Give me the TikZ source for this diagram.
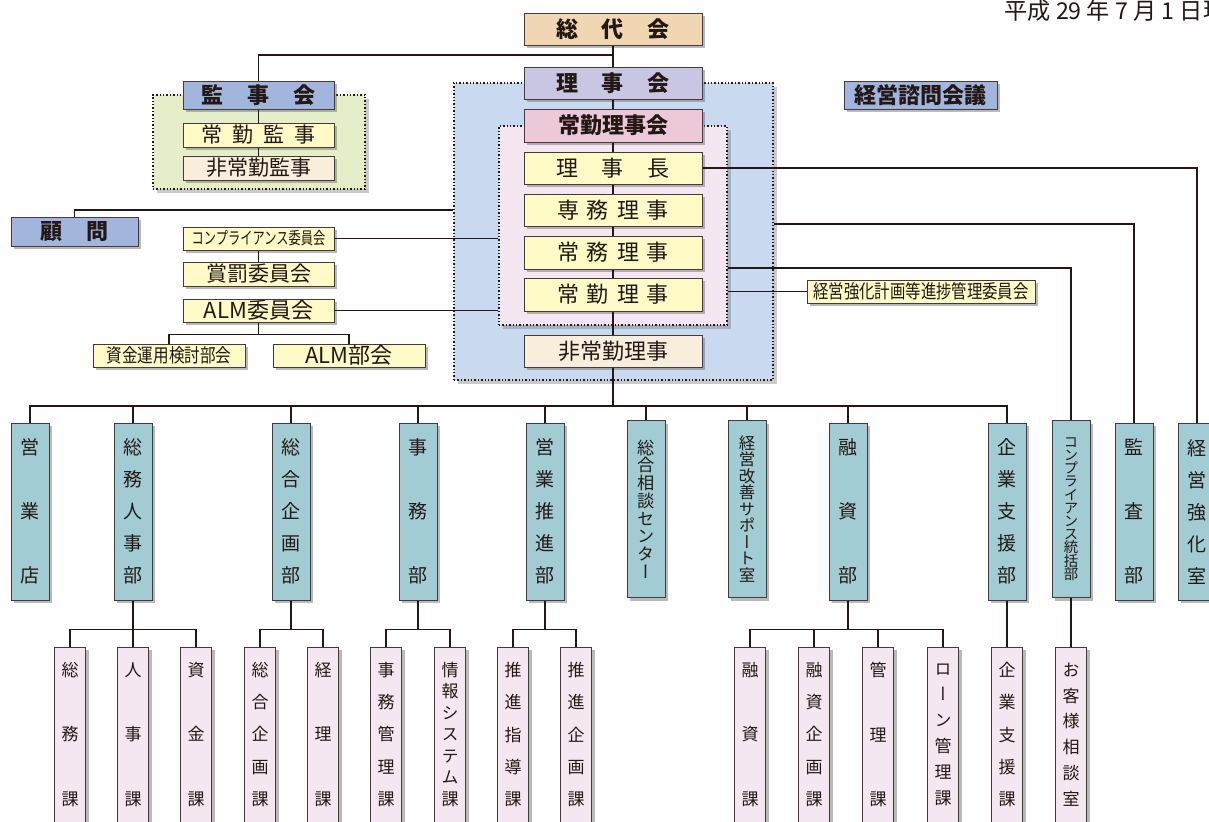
\documentclass[tikz,border=0pt]{standalone}
\usepackage{fontspec}
\usepackage{graphicx}
\setmainfont{Noto Sans CJK JP}
\newfontfamily\vfont[RawFeature=+vert]{Noto Sans CJK JP}
\usetikzlibrary{shadows}

\definecolor{ink}{HTML}{231815}
\definecolor{boxtan}{HTML}{F0D6B3}
\definecolor{boxlav}{HTML}{C8C6E2}
\definecolor{boxpink}{HTML}{EBC9D8}
\definecolor{boxyel}{HTML}{FFFAC6}
\definecolor{boxcream}{HTML}{F9EEDB}
\definecolor{boxblue}{HTML}{A2B5DD}
\definecolor{areagreen}{HTML}{E5EEC9}
\definecolor{areablue}{HTML}{C9D9EF}
\definecolor{areapink}{HTML}{F5E7F1}
\definecolor{deptteal}{HTML}{A1CCD3}

\newcommand{\bsp}{\hspace{11.8pt}}
\newcommand{\ssp}{\hspace{4pt}}
\newcommand{\narrow}[2]{\scalebox{#1}[1]{#2}}
\newcommand{\vtype}[2]{\vfont\fontsize{#1}{#2}\selectfont}
\lineskiplimit=-9pt

\tikzset{
  wh/.style 2 args={minimum width=#1*0.5pt, minimum height=#2*0.5pt},
  box/.style={draw=ink!85, line width=0.5pt, inner sep=0pt, text=ink,
    drop shadow={shadow xshift=1.5pt, shadow yshift=-1.5pt, opacity=0.45, fill=black!60}},
  head/.style={box, font=\bfseries\fontsize{11}{13}\selectfont},
  post/.style={box, fill=boxyel, font=\fontsize{11}{13}\selectfont},
  small/.style={box, fill=boxyel, font=\fontsize{10.5}{12}\selectfont},
  area/.style={draw=ink, densely dotted, line width=0.7pt, inner sep=0pt,
    drop shadow={shadow xshift=2pt, shadow yshift=-2pt, opacity=0.35, fill=black!60}},
  dept/.style={box, fill=deptteal, wh={38}{177}, align=center, font={\vtype{9.5}{#1}}},
  sect/.style={box, fill=areapink, wh={31}{175}, align=center, font={\vtype{8.5}{#1}}},
  link/.style={draw=ink, line width=0.8pt},
}

\begin{document}
\begin{tikzpicture}[x=0.5pt,y=-0.5pt]
\useasboundingbox (0,0) rectangle (1209,821);

% date
\node[anchor=west, inner sep=0pt, text=ink, font=\fontsize{11.6}{13}\selectfont] (date) at (1004,11) {平成 29 年 7 月 1 日現在};

% dotted areas
\node[area, fill=areagreen, wh={212}{94}] (kanjiarea) at (259,142) {};
\node[area, fill=areablue, wh={319}{297}] (rijiarea) at (613.5,231.5) {};
\node[area, fill=areapink, wh={228}{199}] (jokinarea) at (613,225.5) {};

% board column
\node[head, fill=boxtan, wh={178}{32}] (soudai) at (613,29) {総\bsp 代\bsp 会};
\node[head, fill=boxlav, wh={178}{32}] (rijikai) at (613,83) {理\bsp 事\bsp 会};
\node[head, fill=boxpink, wh={178}{33}] (jokinkai) at (613,125.5) {常勤理事会};
\node[post, wh={178}{32}] (richo) at (613,168) {理\bsp 事\bsp 長};
\node[post, wh={178}{32}] (senmu) at (613,210) {専\ssp 務\ssp 理\ssp 事};
\node[post, wh={178}{33}] (jomu) at (613,252.5) {常\ssp 務\ssp 理\ssp 事};
\node[post, wh={178}{33}] (jokin) at (613,294.5) {常\ssp 勤\ssp 理\ssp 事};
\node[post, fill=boxcream, wh={178}{32}] (hijokin) at (613,351) {非常勤理事};

% auditors
\node[head, fill=boxblue, wh={151}{28}] (kanjikai) at (258.5,95) {監\bsp 事\bsp 会};
\node[small, wh={151}{24}] (jokinkanji) at (258.5,135) {常\hspace{5pt}勤\hspace{5pt}監\hspace{5pt}事};
\node[small, fill=boxcream, wh={151}{24}] (hijokinkanji) at (258.5,168) {非常勤監事};

% advisers and committees
\node[head, fill=boxblue, wh={127}{29}] (komon) at (74.5,231.5) {顧\bsp 問};
\node[head, fill=boxblue, wh={153}{28}] (shimon) at (920.5,95) {経営諮問会議};
\node[small, wh={151}{23}, font=\fontsize{8.5}{10}\selectfont] (comp) at (258.5,238.5) {\narrow{0.72}{コンプライアンス委員会}};
\node[small, wh={151}{24}] (shobatsu) at (258.5,274) {賞罰委員会};
\node[small, wh={151}{23}, font=\fontsize{11}{12}\selectfont] (alm) at (258.5,310.5) {ALM委員会};
\node[small, wh={152}{23}, font=\fontsize{9.5}{11}\selectfont] (shikin) at (169,355.5) {\narrow{0.82}{資金運用検討部会}};
\node[small, wh={152}{23}, font=\fontsize{11}{12}\selectfont] (almbu) at (349,355.5) {ALM部会};
\node[small, wh={228}{23}, font=\fontsize{9.5}{11}\selectfont] (keikaku) at (921,291.5) {\narrow{0.81}{経営強化計画等進捗管理委員会}};

% departments
\node[dept=32] (eigyo) at (30,511.5) {営\\業\\店};
\node[dept=16] (somujinji) at (133,511.5) {総\\務\\人\\事\\部};
\node[dept=16] (sogokikaku) at (291,511.5) {総\\合\\企\\画\\部};
\node[dept=32] (jimu) at (418,511.5) {事\\務\\部};
\node[dept=16] (suishin) at (545,511.5) {営\\業\\推\\進\\部};
\node[dept=8.85, font={\vtype{8.6}{8.85}}] (sodan) at (646,509) {総\\合\\相\\談\\セ\\ン\\タ\\ー};
\node[dept=8.25, font={\vtype{8.2}{8.25}}] (kaizen) at (747,509) {経\\営\\改\\善\\サ\\ポ\\ー\\ト\\室};
\node[dept=32] (yushi) at (848,511.5) {融\\資\\部};
\node[dept=16] (kigyo) at (1007,511.5) {企\\業\\支\\援\\部};
\node[dept=6.6, font={\vtype{7.2}{6.6}}] (compbu) at (1071,509) {コ\\ン\\プ\\ラ\\イ\\ア\\ン\\ス\\統\\括\\部};
\node[dept=32] (kansa) at (1134,511.5) {監\\査\\部};
\node[dept=16] (kyoka) at (1197,511.5) {経\\営\\強\\化\\室};

% sections
\node[sect=32.25] (somuka) at (70,734.5) {総\\務\\課};
\node[sect=32.25] (jinjika) at (133,734.5) {人\\事\\課};
\node[sect=32.25] (shikinka) at (196,734.5) {資\\金\\課};
\node[sect=16.1] (kikakuka) at (260,734.5) {総\\合\\企\\画\\課};
\node[sect=32.25] (keirika) at (323,734.5) {経\\理\\課};
\node[sect=16.1] (jimukanrika) at (386,734.5) {事\\務\\管\\理\\課};
\node[sect=10.75] (johoka) at (450,734.5) {情\\報\\シ\\ス\\テ\\ム\\課};
\node[sect=16.1] (shidoka) at (513,734.5) {推\\進\\指\\導\\課};
\node[sect=16.1] (suikikakuka) at (576,734.5) {推\\進\\企\\画\\課};
\node[sect=32.25] (yushika) at (750,734.5) {融\\資\\課};
\node[sect=16.1] (yukikakuka) at (814,734.5) {融\\資\\企\\画\\課};
\node[sect=32.25] (kanrika) at (878,734.5) {管\\理\\課};
\node[sect=12.9] (loanka) at (943,734.5) {ロ\\ー\\ン\\管\\理\\課};
\node[sect=16.1] (kigyoka) at (1007,734.5) {企\\業\\支\\援\\課};
\node[sect=12.9] (kyakushitsu) at (1071,734.5) {お\\客\\様\\相\\談\\室};

% connectors
\coordinate (split) at (613,55);
\coordinate (bus) at (613,406);
\draw[link] (soudai) -- (rijikai) -- (jokinkai) -- (richo) -- (senmu) -- (jomu) -- (jokin) -- (hijokin);
\draw[link] (split) -| (kanjikai.north);
\draw[link] (kanjikai) -- (jokinkanji) -- (hijokinkanji);
\draw[link] (komon.north) |- (rijiarea.west |- 0,210);
\draw[link] (comp.east) -- (comp.east -| jokinarea.west);
\draw[link] (alm.east) -- (alm.east -| jokinarea.west);
\draw[link] (comp) -- (shobatsu);
\draw[link] (alm.south) -- ++(0,12) -| (shikin.north);
\draw[link] (alm.south) -- ++(0,12) -| (almbu.north);
\draw[link] (richo.east) -| (kyoka.north);
\draw[link] (rijiarea.east |- 0,224) -| (kansa.north);
\draw[link] (jokinarea.east |- 0,268) -| (compbu.north);
\draw[link] (keikaku.west) -- (keikaku.west -| jokinarea.east);
\draw[link] (hijokin) -- (bus);
\foreach \d in {eigyo,somujinji,sogokikaku,jimu,suishin,sodan,kaizen,yushi,kigyo}
  \draw[link] (bus) -| (\d.north);
\foreach \d/\s in {somujinji/somuka, somujinji/jinjika, somujinji/shikinka,
    sogokikaku/kikakuka, sogokikaku/keirika, jimu/jimukanrika, jimu/johoka,
    suishin/shidoka, suishin/suikikakuka, yushi/yushika, yushi/yukikakuka,
    yushi/kanrika, yushi/loanka, kigyo/kigyoka, compbu/kyakushitsu}
  \draw[link] (\d.south) -- ++(0,29) -| (\s.north);

\end{tikzpicture}
\end{document}
